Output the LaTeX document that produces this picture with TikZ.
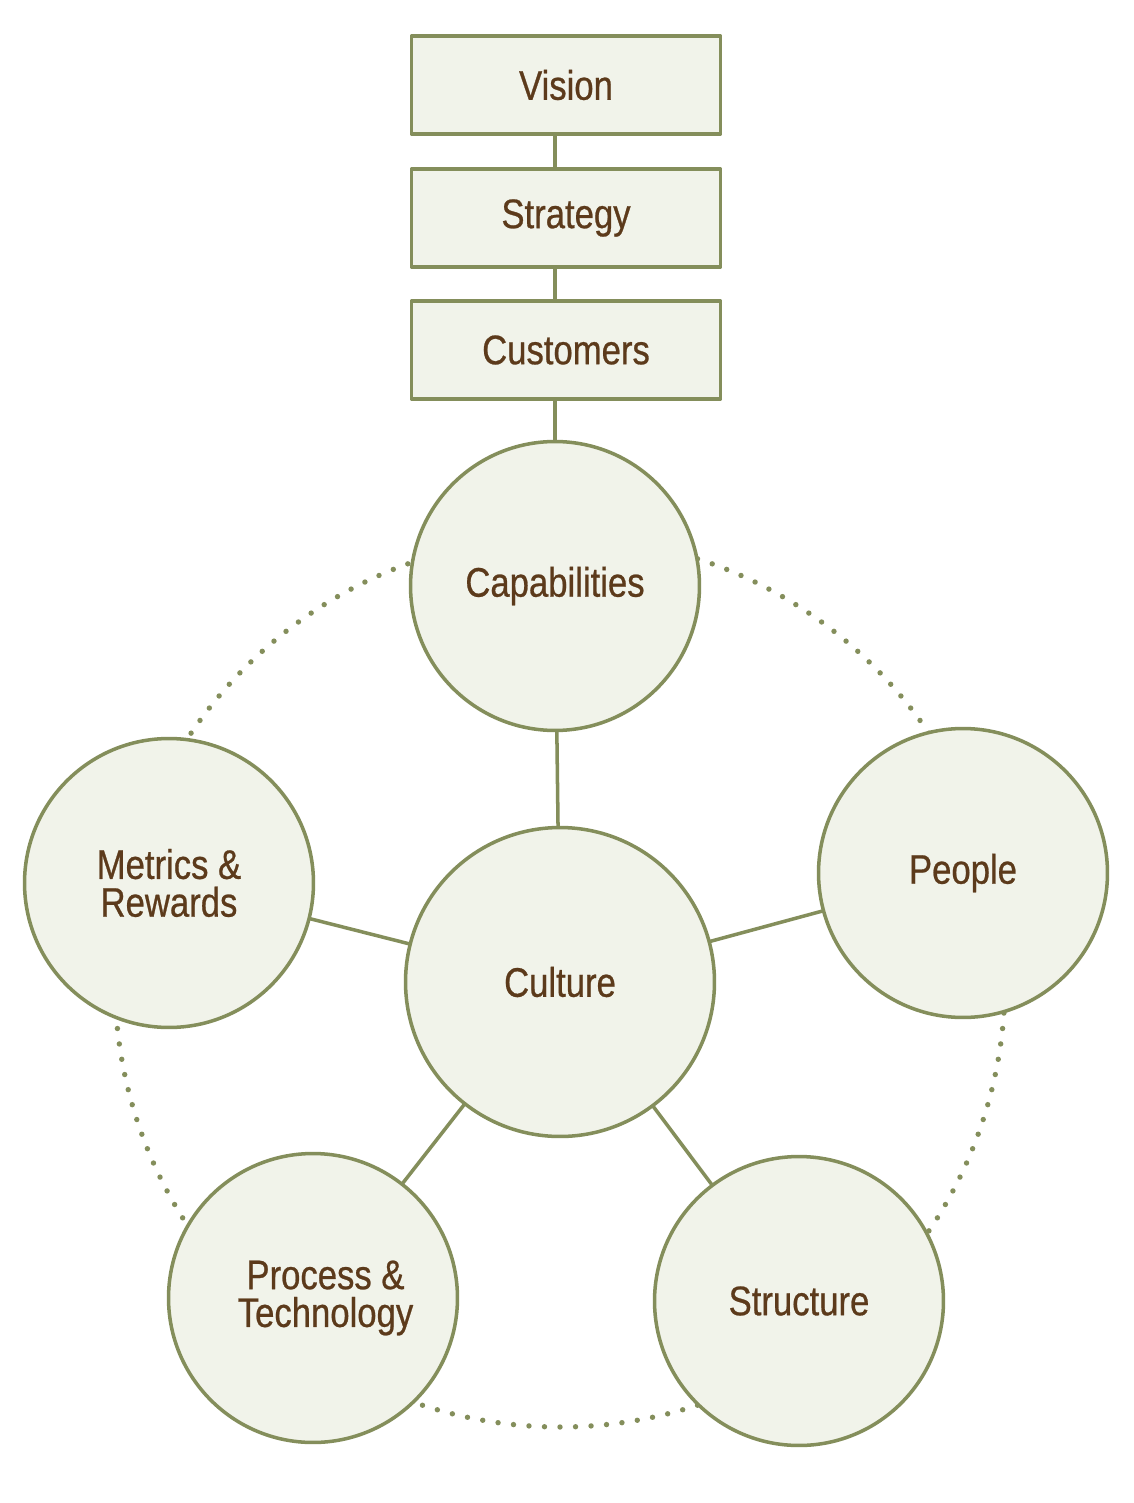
\documentclass[tikz,border=0pt]{standalone}
\usepackage{fontspec}
\setsansfont{Liberation Sans}[FakeStretch=0.84,FakeBold=0.6]
\usetikzlibrary{backgrounds}
\definecolor{rim}{HTML}{848E5B}
\definecolor{paper}{HTML}{F1F3EA}
\definecolor{ink}{HTML}{5C3A1B}

\begin{document}
\begin{tikzpicture}[x=0.02cm,y=-0.02cm,line cap=round,line join=round,
    font=\sffamily\fontsize{23.5}{21.5}\selectfont,text=ink,
    box/.style={draw=rim,fill=paper,line width=2pt,
      minimum width=6.18cm,minimum height=1.96cm},
    disc/.style={circle,draw=rim,fill=paper,line width=2pt,
      minimum size=5.78cm,inner sep=0pt,align=center},
    spoke/.style={draw=rim,line width=2pt}]
  \useasboundingbox (0,0) rectangle (1133,1503);

  % chain of boxes on top
  \node[box] (vis) at (566,85) {Vision};
  \node[box] (str) at (566,218) {Strategy};
  \node[box] (cus) at (566,350) {Customers};

  % the five circles round the centre one
  \node[disc,minimum size=6.18cm] (cul) at (560,982) {Culture};
  \node[disc] (cap) at (555,586) {Capabilities};
  \node[disc] (peo) at (963,873) {People};
  \node[disc] (met) at (169,883) {Metrics \&\\Rewards};
  \node[disc] (pro) at (313,1298) {\hspace*{0.5cm}Process \&\\\hspace*{0.5cm}Technology};
  \node[disc] (stu) at (799,1301) {Structure};

  \begin{scope}[on background layer]
    \fill[white] (0,0) rectangle (1133,1503);
    % dotted ring behind the outer circles
    \foreach \a in {0,2,...,358}
      \fill[rim] (cul.center) ++(\a:445) circle[radius=2.7];
    \draw[spoke] (vis.south -| cap.center) -- (str.north -| cap.center);
    \draw[spoke] (str.south -| cap.center) -- (cus.north -| cap.center);
    \draw[spoke] (cus.south -| cap.center) -- (cap.center);
    \foreach \n in {cap,peo,met,pro,stu}
      \draw[spoke] (cul.center) -- (\n.center);
  \end{scope}
\end{tikzpicture}
\end{document}
